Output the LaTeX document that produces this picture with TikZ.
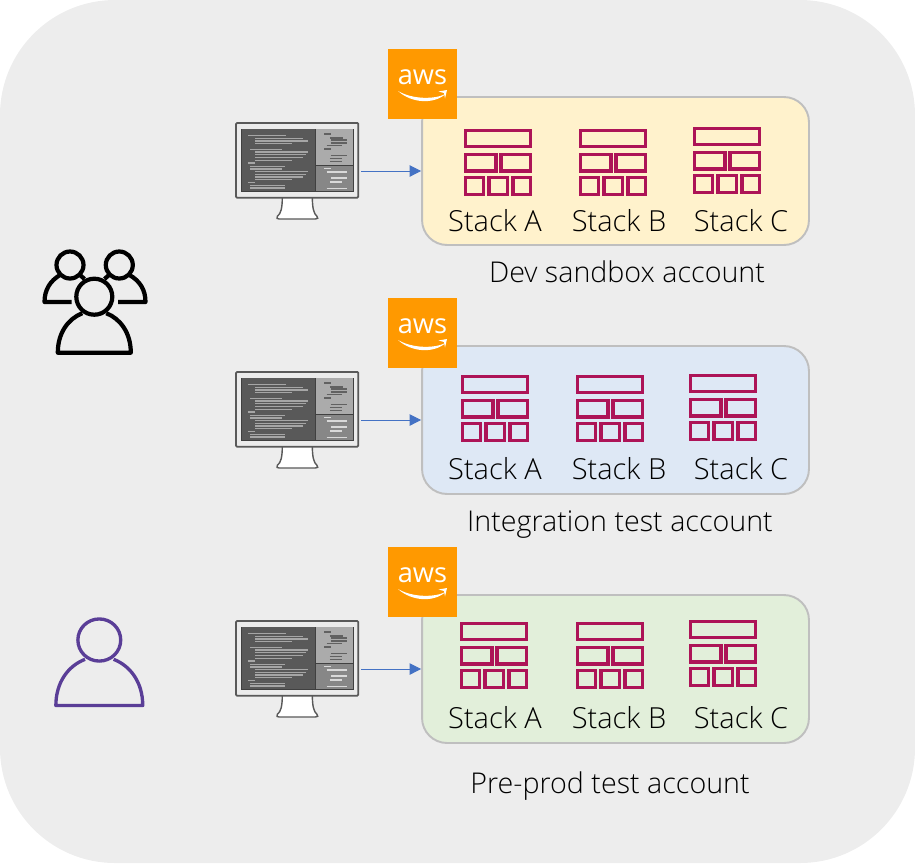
\documentclass[tikz,border=0pt]{standalone}
\usepackage{fontspec}
\setmainfont{Open Sans Light}
\newfontfamily\awsfont{Open Sans}
\usetikzlibrary{arrows.meta}
\definecolor{bggray}{HTML}{EDEDED}
\definecolor{stackred}{HTML}{AD1457}
\definecolor{awsorange}{HTML}{FF9900}
\definecolor{boxline}{HTML}{BFBFBF}
\definecolor{devfill}{HTML}{FFF2CC}
\definecolor{intfill}{HTML}{DEE8F5}
\definecolor{prefill}{HTML}{E2EFDA}
\definecolor{linkblue}{HTML}{4472C4}
\definecolor{userpurple}{HTML}{5A3E97}
\definecolor{monframe}{HTML}{595959}
\tikzset{
  acctbox/.style={draw=boxline,line width=1.1pt,rounded corners=0.5cm,minimum width=7.74cm,minimum height=2.96cm,inner sep=0},
  awsbox/.style={fill=awsorange,minimum width=1.38cm,minimum height=1.4cm,inner sep=0},
  stacktext/.style={font=\fontsize{16.5}{18}\selectfont,text=black,inner sep=0,anchor=base},
  accttext/.style={font=\fontsize{16.3}{18}\selectfont,text=black,inner sep=0,anchor=base},
  link/.style={linkblue,line width=0.45pt,-{Triangle[length=6.5pt,width=6.5pt]}},
  brick/.style={draw=stackred,line width=1.9pt},
  stackicon/.pic={
    \draw[brick] (1.5,1.5) rectangle (66.5,17.5);
    \draw[brick] (1.5,25.5) rectangle (32,42);
    \draw[brick] (37,25.5) rectangle (66.5,42);
    \draw[brick] (1.5,48.5) rectangle (19.5,65.5);
    \draw[brick] (25,48.5) rectangle (43.5,65.5);
    \draw[brick] (49,48.5) rectangle (66.5,65.5);
  },
  monitoricon/.pic={
    \begin{scope}[scale=0.3333]
    % stand first
    \draw[monframe,fill=white,line width=0.8pt] (139,220) .. controls (139,255) and (135,272) .. (124,280) .. controls (120,286) and (124,288) .. (130,288) -- (238,288) .. controls (245,288) and (248,285) .. (243,280) .. controls (233,272) and (229,255) .. (229,220);
    \draw[monframe,fill=black!8,line width=1pt,rounded corners=0.6pt] (0,0) rectangle (367,224);
    \fill[black!75] (15,17) rectangle (353,207);
    \fill[black!65] (17,19) rectangle (236,205);
    \fill[black!33] (239,19) rectangle (351,126);
    \fill[black!47] (239,130) rectangle (351,205);
    \foreach \xa/\xb/\yy in {37/149/37,57/202/47,57/217/54,57/167/62,42/139/79,57/217/87,57/210/95,57/202/104,57/167/112,37/57/120,42/147/130,42/139/138,57/217/146,57/210/154,57/202/162,57/167/170,37/57/179,42/147/187,42/147/195} {
      \draw[black!35,line width=0.75pt] (\xa,\yy) -- (\xb,\yy);
    }
    \foreach \xa/\xb/\yy in {265/285/33,282/320/45,285/332/51,285/332/60,272/318/68,265/285/78,285/332/97,282/318/106,282/318/116} {
      \draw[black!62,line width=0.75pt] (\xa,\yy) -- (\xb,\yy);
    }
    \foreach \xa/\xb/\yy in {265/285/137,272/332/147,285/332/165,282/318/177,272/332/196} {
      \draw[black!15,line width=0.75pt] (\xa,\yy) -- (\xb,\yy);
    }
    \end{scope}
  },
  awslogo/.pic={
    \node[text=white,inner sep=0,font=\awsfont\fontsize{15.5}{18}\selectfont] (-word) at (0,-7) {aws};
    \fill[white] (-24.5,7) .. controls (-10,20) and (12,20) .. (23,10) .. controls (12,15.5) and (-10,15.5) .. cycle;
    \fill[white] (16,7.5) -- (24.5,6) -- (22.5,14.5) -- (21.5,9) -- cycle;
  },
  % head at the origin
  personicon/.pic={
    \draw[pic actions] (0,0) circle [radius=18];
    \draw[pic actions,line join=round] (-12,16.5) .. controls (-26,22) and (-36.5,36) .. (-36.5,56) -- (36.5,56) .. controls (36.5,36) and (26,22) .. (12,16.5);
  },
}
\begin{document}
\begin{tikzpicture}[x=0.02cm,y=-0.02cm]
\useasboundingbox (0,0) rectangle (915,863);
\fill[bggray] (0,0) [rounded corners=2.3cm] rectangle (915,863);
%------------------------------
% accounts
%______________________________
\node[acctbox,fill=devfill] (devbox) at (615.5,171) {};
\node[acctbox,fill=intfill] (intbox) at (615.5,420) {};
\node[acctbox,fill=prefill] (prebox) at (615.5,669) {};
\node[awsbox] (devaws) at (422.5,84) {};
\node[awsbox] (intaws) at (422.5,333) {};
\node[awsbox] (preaws) at (422.5,582) {};
\pic at (devaws) {awslogo};
\pic at (intaws) {awslogo};
\pic at (preaws) {awslogo};
%
\foreach \nm/\xa/\xb/\xc/\ya/\yc/\yt in {dev/464/579/693/129/127/231,int/461/576/689/375/374/479,pre/460/576/689/622/620/728} {
    \pic at (\xa,\ya) {stackicon};
    \pic at (\xb,\ya) {stackicon};
    \pic at (\xc,\yc) {stackicon};
    \node[stacktext] (\nm stacka) at (495,\yt) {Stack A};
    \node[stacktext] (\nm stackb) at (619,\yt) {Stack B};
    \node[stacktext] (\nm stackc) at (741,\yt) {Stack C};
}
\node[accttext] (devtext) at (627,282) {Dev sandbox account};
\node[accttext] (inttext) at (620,531) {Integration test account};
\node[accttext] (pretext) at (610,793) {Pre-prod test account};
%------------------------------
% monitors
%______________________________
\pic at (236,123) {monitoricon};
\pic at (236,372) {monitoricon};
\pic at (236,621) {monitoricon};
\coordinate (devfrom) at (361,171);
\coordinate (intfrom) at (361,420);
\coordinate (prefrom) at (361,669);
\draw[link] (devfrom) -- (devbox.west);
\draw[link] (intfrom) -- (intbox.west);
\draw[link] (prefrom) -- (prebox.west);
%------------------------------
% people
%______________________________
\begin{scope}[line width=2.4pt,black]
    \draw (70,265) circle [radius=13.5];
    \draw (119.3,265) circle [radius=13.5];
    \draw[line join=round] (71.5,302) -- (44.5,302) .. controls (44.5,290) and (50,281) .. (60,275);
    \draw (80,275) -- (84.5,279);
    \draw[line join=round] (118,302) -- (145.5,302) .. controls (145.5,290) and (140,281) .. (129.5,275);
    \draw (109,275) -- (104.5,279);
    \pic[line width=2.4pt,draw=black] at (94.3,296.7) {personicon};
\end{scope}
\pic[xscale=1.19,yscale=1.17,line width=1.9pt,draw=userpurple] at (99.3,640) {personicon};
\end{tikzpicture}
\end{document}
